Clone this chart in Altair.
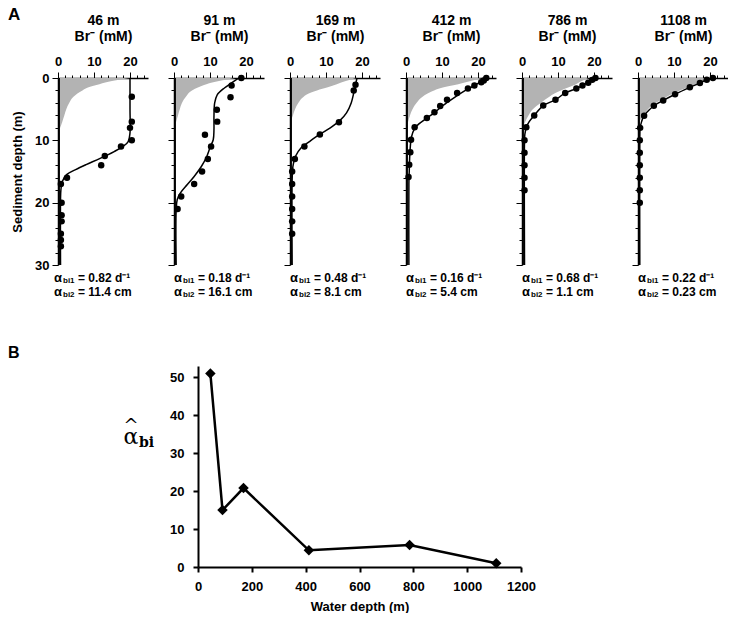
import altair as alt
import pandas as pd

FONT = "Liberation Sans"

stations = ["46 m", "91 m", "169 m", "412 m", "786 m", "1108 m"]
alpha1_txt = ["= 0.82 d⁻¹", "= 0.18 d⁻¹", "= 0.48 d⁻¹", "= 0.16 d⁻¹", "= 0.68 d⁻¹", "= 0.22 d⁻¹"]
alpha2_txt = ["= 11.4 cm", "= 16.1 cm", "= 8.1 cm", "= 5.4 cm", "= 1.1 cm", "= 0.23 cm"]

# background (bottom-water) line position in Br- units
RULE_BR = 0.4

# ---- 46 m
pt_depth_46 = [3, 7, 8, 10, 11, 12.5, 14, 16, 17, 20, 22, 23, 25, 26, 27]
pt_br_46 = [20.5, 20.5, 20, 20.5, 17.5, 13, 12, 2.5, 0.8, 1, 1, 1, 0.8, 0.8, 0.8]
fit_depth_46 = [0, 5, 8.8, 10.2, 11, 11.8, 12.9, 13.9, 14.7, 15.5, 16.6, 18, 19.5, 30]
fit_br_46 = [20, 20, 20, 19.5, 18, 15.6, 11.7, 7.8, 4.9, 2.4, 1.2, 0.8, 0.7, 0.7]
gray_depth_46 = [0, 0.5, 1, 1.5, 2, 3, 4, 5, 6, 7, 8]
gray_br_46 = [20, 15, 11.5, 8.5, 6.8, 4.3, 3.1, 2.3, 1.75, 1.2, 0.6]

# ---- 91 m
pt_depth_91 = [0, 1.2, 3.1, 5.1, 7, 9.1, 11, 13, 15, 17, 19, 21]
pt_br_91 = [18.7, 16, 15.7, 11.9, 12, 8.6, 10.3, 9.4, 7.8, 5.6, 2, 1]
fit_depth_91 = [0, 0.8, 1.6, 2.7, 4, 6.2, 8.3, 9.9, 11, 12.6, 14.2, 15.8, 17.1, 18.5, 19.5, 21.2, 30]
fit_br_91 = [18, 16, 14, 12, 11.3, 11.1, 11.1, 10.9, 10.1, 9.1, 7.6, 5.6, 3.7, 1.7, 0.9, 0.6, 0.6]
gray_depth_91 = [0, 0.5, 1, 1.5, 2, 3, 4, 5, 6, 7]
gray_br_91 = [17, 12.5, 9, 6.8, 5, 3.3, 2.2, 1.6, 1.1, 0.6]

# ---- 169 m
pt_depth_169 = [1.1, 2, 7.1, 9.05, 11, 13, 15, 17, 19, 21, 23, 25]
pt_br_169 = [18.2, 17.7, 13.6, 8.3, 4, 1.35, 0.6, 0.6, 0.6, 0.6, 0.6, 0.6]
fit_depth_169 = [0, 1.1, 2.4, 4, 5.6, 6.8, 8, 9.1, 10.2, 11.2, 12.6, 14.2, 16.3, 30]
fit_br_169 = [18.6, 18.2, 17.7, 17, 15.7, 13.9, 11.2, 8.1, 5.4, 3.1, 1.5, 0.8, 0.6, 0.6]
gray_depth_169 = [0, 0.5, 1, 1.5, 2, 2.5, 3, 4, 5, 6, 6.5]
gray_br_169 = [18.5, 15.5, 13, 10.5, 7.5, 5.2, 3.8, 2.3, 1.4, 0.8, 0.5]

# ---- 412 m
pt_depth_412 = [0, 0.4, 0.7, 1.2, 1.7, 2.4, 3.5, 4.5, 5.5, 6.4, 7.9, 9.9, 11.9, 13.9, 15.9]
pt_br_412 = [22.3, 21.6, 20.9, 19, 17.2, 14.2, 11.4, 9.5, 7.9, 5.8, 2.4, 1.4, 1.2, 0.9, 0.7]
fit_depth_412 = [0, 0.5, 1.2, 2, 3.3, 4.4, 5.5, 6.5, 7.4, 8.2, 9.5, 11, 13, 15, 17, 30]
fit_br_412 = [22, 21, 19, 16.5, 13, 10.3, 8, 5.6, 3.5, 2.3, 1.5, 1.2, 1, 0.9, 0.8, 0.8]
gray_depth_412 = [0, 0.5, 1, 1.5, 2, 2.5, 3, 4, 5, 6, 7]
gray_br_412 = [21, 18, 14.5, 10.5, 7.8, 6, 4.6, 2.9, 1.8, 1.1, 0.6]

# ---- 786 m
pt_depth_786 = [0, 0.3, 0.75, 1.2, 1.7, 2.4, 3.5, 4.4, 6, 7.9, 10, 12, 14, 16, 18]
pt_br_786 = [20.4, 19.5, 18.4, 16.8, 15.1, 12, 9.3, 5.9, 3.4, 1.2, 0.7, 0.7, 0.7, 0.7, 0.7]
fit_depth_786 = [0, 0.3, 0.75, 1.2, 1.7, 2.4, 3.5, 4.4, 6, 7, 7.9, 9, 10, 30]
fit_br_786 = [20.4, 19.5, 18.4, 16.8, 15.1, 12, 9.3, 6, 3.4, 2, 1.2, 0.8, 0.7, 0.7]
gray_depth_786 = [0, 0.5, 1, 1.5, 2, 2.5, 3, 4, 5, 6, 7, 7.5]
gray_br_786 = [18.5, 16.6, 15, 13, 10.8, 9, 7.6, 5.2, 3, 1.8, 0.9, 0.5]

# ---- 1108 m
pt_depth_1108 = [0, 0.27, 0.8, 1.5, 2.6, 3.6, 4.45, 6.05, 8, 10, 12, 14, 16, 18, 20]
pt_br_1108 = [20.8, 19.1, 17.2, 14.4, 10.3, 7, 4.4, 1.7, 0.6, 0.5, 0.5, 0.5, 0.5, 0.5, 0.5]
fit_depth_1108 = [0, 0.27, 0.8, 1.5, 2.6, 3.6, 4.45, 5.3, 6, 7, 8, 10, 30]
fit_br_1108 = [20.8, 19.1, 17.2, 14.4, 10.3, 7, 4.4, 2.8, 1.7, 1, 0.6, 0.5, 0.5]
gray_depth_1108 = [0, 0.8, 1.9, 3.2, 4.3, 5.4, 6.2, 6.7]
gray_br_1108 = [20, 16.8, 12.1, 7.4, 4.1, 2.2, 1.2, 0.75]

# ---- panel B
water_depth = [46, 91, 169, 412, 786, 1108]
alpha_hat = [51, 15, 20.8, 4.4, 5.8, 1]

x_ticks = list(range(0, 25, 2))
y_ticks = list(range(0, 31, 2))
cond_tick = {"condition": {"test": "datum.value % 10 === 0", "value": 6}, "value": 3}
label_expr = "datum.value % 10 === 0 ? datum.label : ''"

PW, PH = 90, 187
label_x0 = [-4, 0, 0, 0, 0, 0]


def txt(s, x, y, size, align="left", font=FONT, weight="bold"):
    return alt.Chart(alt.Data(values=[{}])).mark_text(
        text=s, align=align, baseline="middle", fontSize=size,
        fontWeight=weight, font=font, color="black"
    ).encode(x=alt.value(x), y=alt.value(y))


def panel(i, pdp, pbr, fd, fb, gd, gb):
    first = i == 0
    xaxis = alt.Axis(orient="top", values=x_ticks, labelExpr=label_expr,
                     tickSize=cond_tick, title=[stations[i], "Br⁻ (mM)"],
                     titleFontSize=14, titleLineHeight=16, labelFontSize=13,
                     labelPadding=4, titlePadding=12, labelFlush=False,
                     labelOverlap=False)
    ykw = dict(values=y_ticks, tickSize=cond_tick, labelFlush=False,
               labelOverlap=False)
    if first:
        ykw.update(labelExpr=label_expr, title="Sediment depth (m)",
                   titleFontSize=13, labelFontSize=13, labelPadding=3,
                   titlePadding=10)
    else:
        ykw.update(labels=False, title=None)
    X = alt.X("br:Q", scale=alt.Scale(domain=[0, 25], nice=False, zero=False), axis=xaxis)
    Y = alt.Y("depth:Q", scale=alt.Scale(domain=[0, 30], reverse=True, nice=False), axis=alt.Axis(**ykw))

    gray = pd.DataFrame({"depth": gd, "br": gb, "left": [RULE_BR] * len(gd)})
    rule = pd.DataFrame({"depth": [0, 30], "br": [RULE_BR, RULE_BR]})
    fit = pd.DataFrame({"depth": fd, "br": fb})
    pts = pd.DataFrame({"depth": pdp, "br": pbr})

    layers = [
        alt.Chart(gray).mark_area(orient="horizontal", color="#b3b3b3", interpolate="monotone").encode(
            x=X, x2=alt.X2("left:Q"), y=Y),
        alt.Chart(rule).mark_line(color="black", strokeWidth=1).encode(x=X, y=Y, order="depth:Q"),
        alt.Chart(fit).mark_line(color="black", strokeWidth=1.5, interpolate="catmull-rom").encode(
            x=X, y=Y, order="depth:Q"),
        alt.Chart(pts).mark_circle(size=42, color="black", opacity=1).encode(x=X, y=Y),
    ]
    x0 = label_x0[i]
    layers += [
        txt("α", x0, 200, 13),
        txt("bi1", x0 + 9, 202.5, 8),
        txt(alpha1_txt[i], x0 + 24, 200, 12),
        txt("α", x0, 214, 13),
        txt("bi2", x0 + 9, 216.5, 8),
        txt(alpha2_txt[i], x0 + 24, 214, 12),
    ]
    if first:
        layers.append(txt("A", -50, -63, 17))
    return alt.layer(*layers).properties(width=PW, height=PH)


panels = [
    panel(0, pt_depth_46, pt_br_46, fit_depth_46, fit_br_46, gray_depth_46, gray_br_46),
    panel(1, pt_depth_91, pt_br_91, fit_depth_91, fit_br_91, gray_depth_91, gray_br_91),
    panel(2, pt_depth_169, pt_br_169, fit_depth_169, fit_br_169, gray_depth_169, gray_br_169),
    panel(3, pt_depth_412, pt_br_412, fit_depth_412, fit_br_412, gray_depth_412, gray_br_412),
    panel(4, pt_depth_786, pt_br_786, fit_depth_786, fit_br_786, gray_depth_786, gray_br_786),
    panel(5, pt_depth_1108, pt_br_1108, fit_depth_1108, fit_br_1108, gray_depth_1108, gray_br_1108),
]
top = alt.hconcat(*panels, spacing=19)

BH = 201
bdf = pd.DataFrame({"wd": water_depth, "a": alpha_hat})
BX = alt.X("wd:Q", scale=alt.Scale(domain=[0, 1200], nice=False),
           axis=alt.Axis(values=list(range(0, 1201, 200)), format="d",
                         title="Water depth (m)",
                         tickSize=5, tickWidth=2, domainWidth=2, labelFontSize=13,
                         titleFontSize=13, labelPadding=8, titlePadding=7,
                         labelFlush=False))
BY = alt.Y("a:Q", scale=alt.Scale(domain=[0, 53], nice=False),
           axis=alt.Axis(values=list(range(0, 51, 10)), title=None, tickSize=5,
                         tickWidth=2, domainWidth=2, labelFontSize=13,
                         labelPadding=9, labelFlush=False))
bline = alt.Chart(bdf).mark_line(color="black", strokeWidth=2.5).encode(x=BX, y=BY)
bpts = alt.Chart(bdf).mark_point(shape="diamond", filled=True, size=110, color="black",
                                 opacity=1).encode(x=BX, y=BY)
panel_b = alt.layer(bline, bpts).properties(width=323, height=BH)

# left column of row B: panel letter and the y-axis symbol
SPW = 111
b_side = alt.layer(
    txt("B", -50, -13, 16),
    txt("α", 73, 71, 22, align="center", font="DejaVu Serif", weight="normal"),
    txt("^", 73, 61, 18, align="center", font="DejaVu Serif", weight="normal"),
    txt("bi", 81, 77, 14, font="DejaVu Serif", weight="bold"),
).properties(width=SPW, height=BH)

bottom = alt.hconcat(b_side, panel_b, spacing=0)

chart = alt.vconcat(top, bottom, spacing=46).properties(
    padding={"left": 0, "top": -2, "right": 0, "bottom": 0}
).configure_view(strokeWidth=0).configure_axis(
    labelFont=FONT, titleFont=FONT, labelFontWeight="bold", titleFontWeight="bold",
    labelColor="black", titleColor="black", domainColor="black", tickColor="black",
    grid=False, domainWidth=1.5
)

chart.save("out.html", embed_options={"renderer": "svg", "actions": False})
